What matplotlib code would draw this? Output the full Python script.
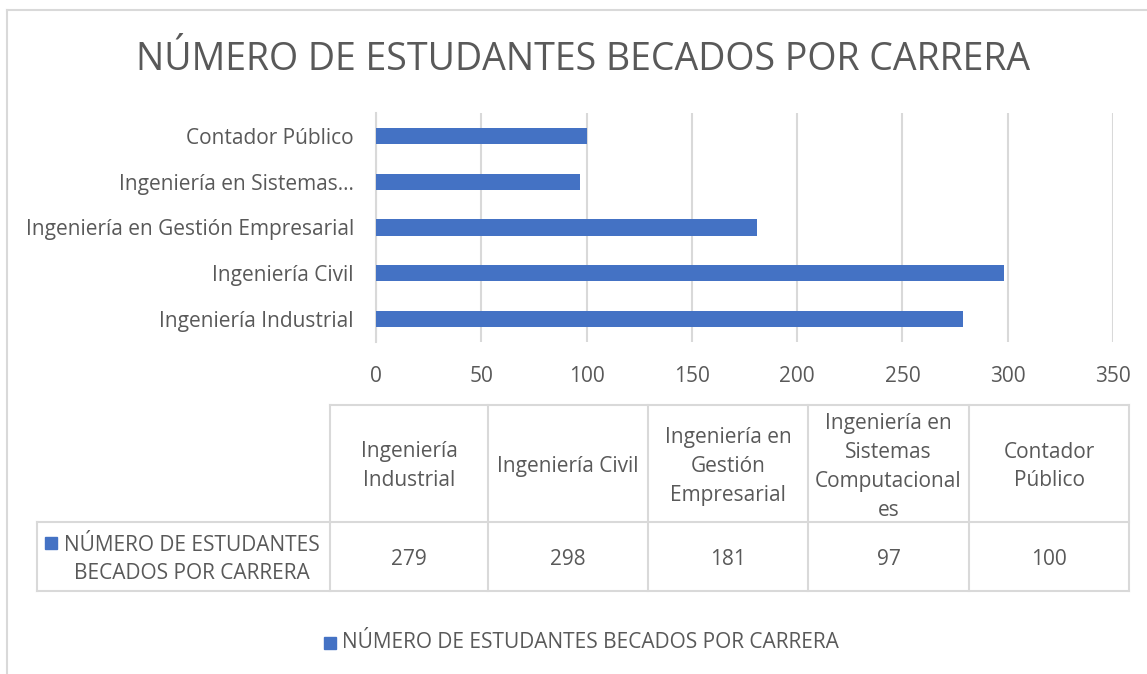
import matplotlib
matplotlib.use("Agg")
import matplotlib.pyplot as plt
from matplotlib.patches import Rectangle

plt.rcParams['font.family'] = ['Open Sans', 'DejaVu Sans']

title = "NÚMERO DE ESTUDANTES BECADOS POR CARRERA"
series_name = "NÚMERO DE ESTUDANTES BECADOS POR CARRERA"
categories = ["Ingeniería Industrial", "Ingeniería Civil",
              "Ingeniería en Gestión Empresarial",
              "Ingeniería en Sistemas Computacionales", "Contador Público"]
axis_labels = ["Ingeniería Industrial", "Ingeniería Civil",
               "Ingeniería en Gestión Empresarial",
               "Ingeniería en Sistemas…", "Contador Público"]
table_headers = ["Ingeniería\nIndustrial", "Ingeniería Civil",
                 "Ingeniería en\nGestión\nEmpresarial",
                 "Ingeniería en\nSistemas\nComputacional\nes",
                 "Contador\nPúblico"]
values = [279, 298, 181, 97, 100]
x_ticks = [0, 50, 100, 150, 200, 250, 300, 350]

BAR = "#4472C4"
TXT = "#595959"
GRID = "#D9D9D9"
FS = 15

W, H = 1147, 674
fig = plt.figure(figsize=(W / 100, H / 100), dpi=100)
fig.patch.set_facecolor("white")

# overlay axes in pixel coordinates
ov = fig.add_axes([0, 0, 1, 1])
ov.set_xlim(0, W)
ov.set_ylim(H, 0)
ov.axis("off")

# chart border (top + left visible)
ov.plot([7, W], [10, 10], color=GRID, lw=1.5)
ov.plot([7, 7], [10, H], color=GRID, lw=1.5)

ov.text(583, 60, title, ha="center", va="center", fontsize=27, color=TXT)

# bar axes
L, R, T, B = 376, 1113, 113, 342
ax = fig.add_axes([L / W, (H - B) / H, (R - L) / W, (B - T) / H])
ypos = list(range(len(categories)))
ax.barh(ypos, values, height=0.35, color=BAR, zorder=3)
ax.set_xlim(0, 350)
ax.set_ylim(-0.5, len(categories) - 0.5)
ax.set_xticks(x_ticks)
ax.set_xticklabels([str(t) for t in x_ticks], fontsize=FS, color=TXT)
ax.set_yticks(ypos)
ax.set_yticklabels(axis_labels, fontsize=FS, color=TXT)
ax.tick_params(axis="both", length=0)
ax.tick_params(axis="x", pad=17)
ax.tick_params(axis="y", pad=16)
ax.grid(axis="x", color=GRID, lw=1.5, zorder=0)
for s in ["top", "right", "bottom"]:
    ax.spines[s].set_visible(False)
ax.spines["left"].set_color(GRID)
ax.spines["left"].set_linewidth(1.5)
ax.set_facecolor("none")

# data table
col_edges = [330, 488, 648, 808, 969, 1129]
row_top, row_mid, row_bot = 405, 522, 591
tbl_left = 37
lw = 1.5
ov.plot([col_edges[0], col_edges[-1]], [row_top, row_top], color=GRID, lw=lw)
ov.plot([tbl_left, col_edges[-1]], [row_mid, row_mid], color=GRID, lw=lw)
ov.plot([tbl_left, col_edges[-1]], [row_bot, row_bot], color=GRID, lw=lw)
ov.plot([tbl_left, tbl_left], [row_mid, row_bot], color=GRID, lw=lw)
for xe in col_edges:
    ov.plot([xe, xe], [row_top, row_bot], color=GRID, lw=lw)

for i, (hdr, val) in enumerate(zip(table_headers, values)):
    cx = (col_edges[i] + col_edges[i + 1]) / 2
    ov.text(cx, (row_top + row_mid) / 2 + 3, hdr, ha="center", va="center",
            fontsize=FS, color=TXT, linespacing=1.5, multialignment="center")
    ov.text(cx, (row_mid + row_bot) / 2 + 3, str(val), ha="center", va="center",
            fontsize=FS, color=TXT)

# row label
ov.add_patch(Rectangle((45, 537), 12, 12, color=BAR))
ov.text(192, (row_mid + row_bot) / 2 + 3, "NÚMERO DE ESTUDANTES\nBECADOS POR CARRERA",
        ha="center", va="center", fontsize=FS, color=TXT, linespacing=1.47,
        multialignment="center")

# legend
ov.add_patch(Rectangle((324, 637), 12, 12, color=BAR))
ov.text(342, 643, series_name, ha="left", va="center", fontsize=FS, color=TXT)

fig.savefig("out.png", dpi=100, facecolor="white")
